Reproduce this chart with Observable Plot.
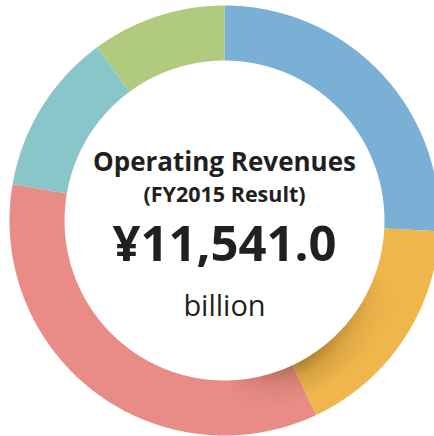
<!DOCTYPE html>
<html><head><meta charset="utf-8">
<script src="https://cdn.jsdelivr.net/npm/d3@7"></script>
<script src="https://cdn.jsdelivr.net/npm/@observablehq/plot@0.6"></script>
<style>body{margin:0;background:#fff}</style>
</head><body><div id="chart"></div>
<script>
const segments = ["Regional communications", "Long distance and international communications", "Mobile communications", "Data communications", "Other"];
const shares = [25.8, 17.2, 34.7, 12.2, 10.1];
const colors = ["#7aafd6", "#efb64b", "#e98b86", "#88c6c9", "#b0cb7e"];
const titleLines = ["Operating Revenues", "(FY2015 Result)", "¥11,541.0", "billion"];

const outerR = 1, innerR = 0.744;
const arcs = d3.pie().sort(null).value(d => d.share)(segments.map((s, i) => ({segment: s, share: shares[i]})));

function ring(key, a0, a1) {
  const out = [];
  const n = Math.max(8, Math.ceil((a1 - a0) / 0.005));
  for (let k = 0; k <= n; k++) {
    const t = a0 + (a1 - a0) * k / n;
    out.push({segment: key, x: outerR * Math.sin(t), y: outerR * Math.cos(t)});
  }
  for (let k = n; k >= 0; k--) {
    const t = a0 + (a1 - a0) * k / n;
    out.push({segment: key, x: innerR * Math.sin(t), y: innerR * Math.cos(t)});
  }
  return out;
}
const pts = arcs.flatMap(a => ring(a.data.segment, a.startAngle, a.endAngle));
// soft shadow around the boundary between the 2nd and 3rd segments
const b = arcs[1].endAngle;
const shadePts = ring("shade", b - 0.8, b + 0.4);

const font = "'Open Sans', sans-serif";
const ink = "#231f20";
const chart = Plot.plot({
  width: 434, height: 436,
  margin: 0,
  x: {domain: [-224/215, 210/215], axis: null},
  y: {domain: [-216/215, 220/215], axis: null},
  color: {domain: segments, range: colors},
  marks: [
    Plot.line(pts, {x: "x", y: "y", z: "segment", fill: "segment", stroke: "none", curve: "linear-closed"}),
    Plot.line(shadePts, {x: "x", y: "y", fill: "url(#shadeGrad)", stroke: "none", curve: "linear-closed", className: "shade"}),
    Plot.text([titleLines[0]], {x: () => 0, y: () => 0, text: d => d, lineAnchor: "bottom", dy: -50, fontSize: 26, fontWeight: "bold", fontFamily: font, fill: ink}),
    Plot.text([titleLines[1]], {x: () => 0, y: () => 0, text: d => d, lineAnchor: "bottom", dy: -19, fontSize: 21.5, fontWeight: "bold", fontFamily: font, fill: ink}),
    Plot.text([titleLines[2]], {x: () => 0, y: () => 0, text: d => d, lineAnchor: "bottom", dy: 40, fontSize: 49, fontWeight: "bold", fontFamily: font, fill: ink}),
    Plot.text([titleLines[3]], {x: () => 0, y: () => 0, text: d => d, lineAnchor: "bottom", dy: 95, fontSize: 29, fontFamily: font, fill: ink})
  ]
});
// gradient definitions for the shadow
const svg = d3.select(chart);
const defs = svg.insert("defs", ":first-child");
const cx = 224, cy = 220, R = 215;
const rg = defs.append("radialGradient").attr("id", "shadeGrad").attr("gradientUnits", "userSpaceOnUse")
  .attr("cx", cx).attr("cy", cy).attr("r", R);
rg.append("stop").attr("offset", innerR).attr("stop-color", "#5a3a10").attr("stop-opacity", 0.45);
rg.append("stop").attr("offset", innerR + 0.06).attr("stop-color", "#5a3a10").attr("stop-opacity", 0.18);
rg.append("stop").attr("offset", innerR + 0.16).attr("stop-color", "#5a3a10").attr("stop-opacity", 0);
const rm = 170;
const p1 = [cx + rm * Math.sin(b - 0.8), cy - rm * Math.cos(b - 0.8)];
const p2 = [cx + rm * Math.sin(b + 0.4), cy - rm * Math.cos(b + 0.4)];
const lg = defs.append("linearGradient").attr("id", "shadeLin").attr("gradientUnits", "userSpaceOnUse")
  .attr("x1", p1[0]).attr("y1", p1[1]).attr("x2", p2[0]).attr("y2", p2[1]);
lg.append("stop").attr("offset", 0).attr("stop-color", "#fff").attr("stop-opacity", 0);
lg.append("stop").attr("offset", 0.62).attr("stop-color", "#fff").attr("stop-opacity", 1);
lg.append("stop").attr("offset", 1).attr("stop-color", "#fff").attr("stop-opacity", 0);
defs.append("mask").attr("id", "shadeMask").attr("maskUnits", "userSpaceOnUse")
  .attr("x", 0).attr("y", 0).attr("width", 434).attr("height", 436)
  .append("rect").attr("width", 434).attr("height", 436).attr("fill", "url(#shadeLin)");
svg.selectAll(".shade path").attr("mask", "url(#shadeMask)");
document.getElementById("chart").appendChild(chart);
</script>
</body></html>
